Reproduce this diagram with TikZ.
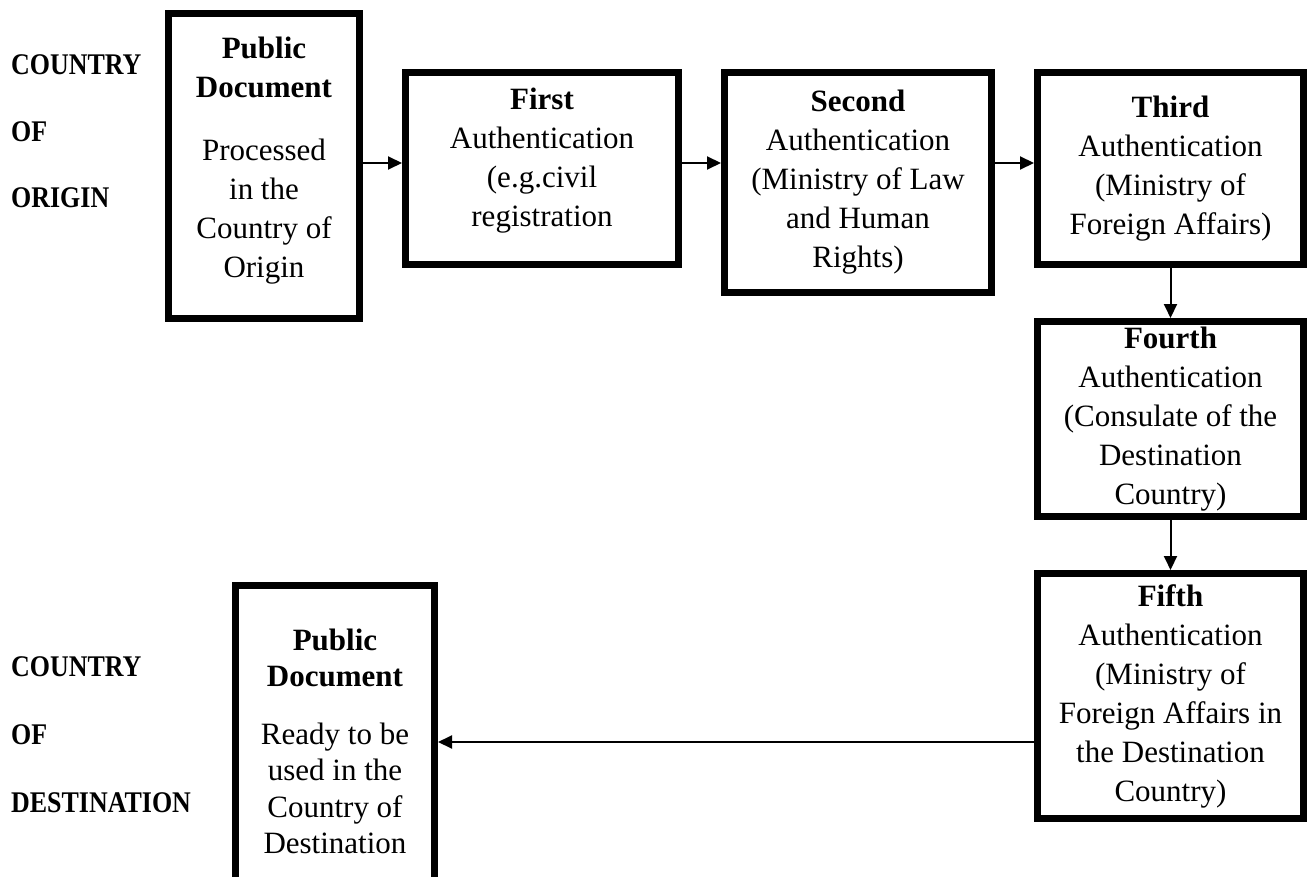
\documentclass[tikz,border=0pt]{standalone}
\usepackage{fontspec}
\setmainfont{Liberation Serif}
\newfontfamily\sidefont[FakeStretch=0.865]{Liberation Serif}
\usetikzlibrary{arrows.meta}
\begin{document}
\begin{tikzpicture}[x=1pt,y=-1pt,
  stepbox/.style={draw=black, line width=7pt, align=center, inner sep=0pt,
    font=\fontsize{31}{39}\selectfont},
  side/.style={anchor=base west, inner sep=0pt, font=\fontsize{30}{36}\sidefont\bfseries},
  conn/.style={line width=2pt, -{Triangle[length=14pt,width=13pt]}}]
\useasboundingbox (0,0) rectangle (1314,877);
\clip (0,0) rectangle (1314,877);
\fill[white] (0,0) rectangle (1314,877);

\node[side] (co1) at (11,75) {COUNTRY};
\node[side] (of1) at (11,142) {OF};
\node[side] (or1) at (11,208) {ORIGIN};
\node[side] (co2) at (11,676) {COUNTRY};
\node[side] (of2) at (11,744) {OF};
\node[side] (de2) at (11,812) {DESTINATION};

\node[stepbox, minimum width=191pt, minimum height=305pt] (pd1) at (264,166)
  {\textbf{Public}\\\textbf{Document}\\[24pt]Processed\\in the\\Country of\\Origin\\[-22pt]\mbox{}};
\node[stepbox, minimum width=273pt, minimum height=192pt] (a1) at (542,168.5)
  {\textbf{First}\\Authentication\\(e.g.civil\\registration\\[-17pt]\mbox{}};
\node[stepbox, minimum width=267pt, minimum height=220pt] (a2) at (858,182.5)
  {\textbf{Second}\\Authentication\\(Ministry of Law\\and Human\\Rights)};
\node[stepbox, minimum width=266pt, minimum height=192pt] (a3) at (1170.5,168.5)
  {\textbf{Third}\\Authentication\\(Ministry of\\Foreign Affairs)};
\node[stepbox, minimum width=266pt, minimum height=195pt] (a4) at (1170.5,419)
  {\textbf{Fourth}\\Authentication\\(Consulate of the\\Destination\\Country)};
\node[stepbox, minimum width=266pt, minimum height=245pt] (a5) at (1170.5,696)
  {\textbf{Fifth}\\Authentication\\(Ministry of\\Foreign Affairs in\\the Destination\\Country)};
\node[stepbox, minimum width=199pt, minimum height=312pt,
  font=\fontsize{31}{36.5}\selectfont] (pd2) at (335,741.5)
  {\textbf{Public}\\\textbf{Document}\\[21pt]Ready to be\\used in the\\Country of\\Destination};

\coordinate (r1) at (0,163);
\draw[conn] (pd1.east |- r1) -- (a1.west |- r1);
\draw[conn] (a1.east |- r1) -- (a2.west |- r1);
\draw[conn] (a2.east |- r1) -- (a3.west |- r1);
\draw[conn] (a3.south) -- (a4.north);
\draw[conn] (a4.south) -- (a5.north);
\coordinate (r2) at (0,742);
\draw[conn] (a5.west |- r2) -- (pd2.east |- r2);
\end{tikzpicture}
\end{document}
